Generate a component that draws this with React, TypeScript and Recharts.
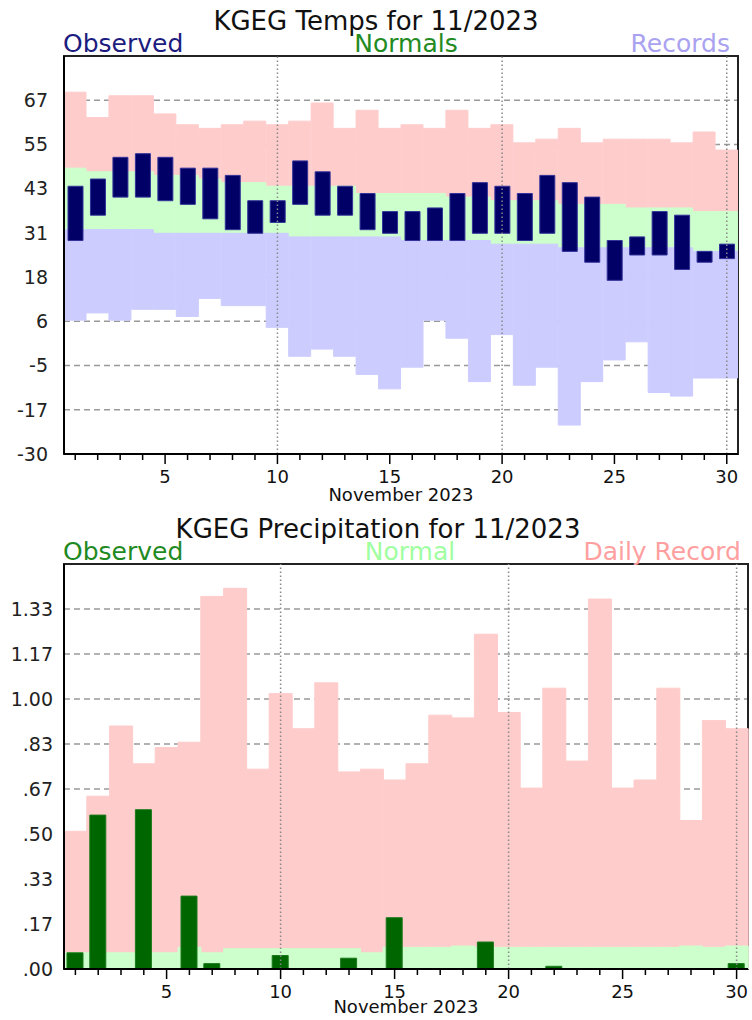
import React from "react";
import {
  Bar,
  CartesianGrid,
  ComposedChart,
  ReferenceArea,
  ReferenceLine,
  XAxis,
  YAxis,
} from "recharts";

// November 2023 days
const days = [
  1, 2, 3, 4, 5, 6, 7, 8, 9, 10, 11, 12, 13, 14, 15, 16, 17, 18, 19, 20, 21, 22, 23, 24, 25, 26, 27, 28, 29, 30,
];

// temperatures (F)
const obsHigh = [44, 46, 52, 53, 52, 49, 49, 47, 40, 40, 51, 48, 44, 42, 37, 37, 38, 42, 45, 44, 42, 47, 45, 41, 29, 30, 37, 36, 26, 28];
const obsLow = [29, 36, 41, 41, 40, 39, 35, 32, 31, 34, 39, 36, 36, 32, 31, 29, 29, 29, 31, 31, 29, 31, 26, 23, 18, 25, 25, 21, 23, 24];
const normHigh = [49, 48, 48, 48, 47, 47, 46, 45, 45, 44, 44, 44, 44, 42, 42, 42, 42, 41, 41, 40, 40, 40, 39, 39, 39, 38, 38, 38, 37, 37];
const normLow = [32, 32, 32, 32, 31, 31, 31, 31, 31, 31, 30, 30, 30, 30, 30, 29, 29, 29, 29, 28, 28, 28, 27, 27, 27, 27, 27, 27, 26, 26];
const recHigh = [70, 63, 69, 69, 64, 61, 60, 61, 62, 61, 62, 67, 60, 65, 60, 61, 60, 65, 60, 61, 56, 57, 60, 56, 57, 57, 57, 56, 59, 54];
const recLow = [7, 9, 7, 10, 10, 8, 13, 11, 11, 5, -3, -1, -3, -8, -12, -6, 7, 2, -10, 3, -11, -6, -22, -10, -4, 1, -13, -14, -9, -9];

const tempTicks = [-30, -17.78, -5.56, 6.67, 18.89, 31.11, 43.33, 55.56, 67.78];
const tempTickLabels = ["-30", "-17", "-5", "6", "18", "31", "43", "55", "67"];

// precipitation (in)
const precipObs = [0.06, 0.57, null, 0.59, null, 0.27, 0.02, null, null, 0.05, null, null, 0.04, null, 0.19, null, null, null, 0.1, null, null, 0.01, null, null, null, null, null, null, null, 0.02];
const precipNormal = [0.06, 0.06, 0.06, 0.06, 0.06, 0.08, 0.06, 0.075, 0.075, 0.075, 0.075, 0.075, 0.075, 0.06, 0.08, 0.08, 0.08, 0.085, 0.08, 0.08, 0.08, 0.08, 0.08, 0.08, 0.08, 0.08, 0.08, 0.085, 0.08, 0.085];
const precipRecord = [0.51, 0.64, 0.9, 0.76, 0.82, 0.84, 1.38, 1.41, 0.74, 1.02, 0.89, 1.06, 0.73, 0.74, 0.7, 0.76, 0.94, 0.93, 1.24, 0.95, 0.67, 1.04, 0.77, 1.37, 0.67, 0.7, 1.04, 0.55, 0.92, 0.89];

const precipTicks = [0, 0.1667, 0.3333, 0.5, 0.6667, 0.8333, 1, 1.1667, 1.3333];
const precipTickLabels = [".00", ".17", ".33", ".50", ".67", ".83", "1.00", "1.17", "1.33"];

const gridLines = [10, 20, 30];

const tempData = days.map((day, i) => ({
  day,
  obs: [obsLow[i], obsHigh[i]],
  rec: [normHigh[i], recHigh[i]],
  nrm: [normLow[i], normHigh[i]],
  low: [recLow[i], normLow[i]],
}));

const precipData = days.map((day, i) => ({
  day,
  obs: precipObs[i],
  nrm: precipNormal[i],
  rec: precipRecord[i],
}));

const FONT = "'DejaVu Sans', Verdana, sans-serif";

function DayTick(props: any) {
  const { x, y, payload } = props;
  const major = payload.value % 5 === 0;
  return (
    <g>
      <line x1={x} x2={x} y1={y} y2={y + (major ? 10 : 6)} stroke="#000" strokeWidth={1.5} />
      {major ? (
        <text x={x} y={y + 29} textAnchor="middle" fontSize={18} fill="#111" fontFamily={FONT}>
          {payload.value}
        </text>
      ) : null}
    </g>
  );
}

function Decorations() {
  return (
    <>
      <CartesianGrid vertical={false} stroke="#999" strokeDasharray="6 4" strokeWidth={1.5} />
      {gridLines.map((d) => (
        <ReferenceLine key={d} x={d} stroke="#888" strokeDasharray="1.5 2.5" strokeWidth={1.5} />
      ))}
    </>
  );
}

// band fills get a same-colour stroke so neighbouring days join without seams
function band(color: string) {
  return { fill: color, stroke: color, strokeWidth: 1 };
}

function TempChart() {
  return (
    <ComposedChart
      width={752}
      height={510}
      data={tempData}
      margin={{ top: 56, right: 14, left: 0, bottom: 0 }}
      barCategoryGap="0%"
      barGap={0}
    >
      <XAxis
        dataKey="day"
        ticks={days}
        interval={0}
        tick={(p: any) => <DayTick {...p} />}
        tickLine={false}
        tickSize={0}
        tickMargin={0}
        axisLine={{ stroke: "#000", strokeWidth: 2 }}
        height={56}
        label={{ value: "November 2023", position: "insideBottom", offset: 9, fontSize: 18, fill: "#111" }}
      />
      <XAxis xAxisId="rec" dataKey="day" hide />
      <XAxis xAxisId="nrm" dataKey="day" hide />
      <XAxis xAxisId="low" dataKey="day" hide />
      <YAxis
        type="number"
        domain={[-30, 80]}
        ticks={tempTicks}
        interval={0}
        tickFormatter={(v: number) => tempTickLabels[tempTicks.indexOf(v)]}
        width={64}
        tickLine={false}
        tickSize={0}
        tickMargin={16}
        axisLine={{ stroke: "#000", strokeWidth: 2 }}
        tick={{ fontSize: 19, fill: "#222" }}
      />
      <Bar xAxisId="rec" dataKey="rec" {...band("#ffcccc")} isAnimationActive={false} />
      <Bar xAxisId="nrm" dataKey="nrm" {...band("#ccffcc")} isAnimationActive={false} />
      <Bar xAxisId="low" dataKey="low" {...band("#ccccff")} isAnimationActive={false} />
      <Bar dataKey="obs" fill="#000066" stroke="#333399" strokeWidth={1} barSize={15} isAnimationActive={false} />
      {Decorations()}
      <ReferenceArea x1={1} x2={30} y1={-30} y2={80} fill="none" stroke="#222" strokeWidth={2} ifOverflow="visible" />
    </ComposedChart>
  );
}

function PrecipChart() {
  return (
    <ComposedChart
      width={752}
      height={510}
      data={precipData}
      margin={{ top: 54, right: 4, left: 0, bottom: 0 }}
      barCategoryGap="0%"
      barGap={0}
    >
      <XAxis
        dataKey="day"
        ticks={days}
        interval={0}
        tick={(p: any) => <DayTick {...p} />}
        tickLine={false}
        tickSize={0}
        tickMargin={0}
        axisLine={{ stroke: "#000", strokeWidth: 2 }}
        height={51}
        label={{ value: "November 2023", position: "insideBottom", offset: 7, fontSize: 18, fill: "#111" }}
      />
      <XAxis xAxisId="rec" dataKey="day" hide />
      <XAxis xAxisId="nrm" dataKey="day" hide />
      <YAxis
        type="number"
        domain={[0, 1.5]}
        ticks={precipTicks}
        interval={0}
        tickFormatter={(v: number) => precipTickLabels[precipTicks.indexOf(v)]}
        width={64}
        tickLine={false}
        tickSize={0}
        tickMargin={11}
        axisLine={{ stroke: "#000", strokeWidth: 2 }}
        tick={{ fontSize: 19, fill: "#222" }}
      />
      <Bar xAxisId="rec" dataKey="rec" {...band("#ffcccc")} isAnimationActive={false} />
      <Bar xAxisId="nrm" dataKey="nrm" {...band("#ccffcc")} isAnimationActive={false} />
      <Bar dataKey="obs" fill="#006600" stroke="#1a7a1a" strokeWidth={1} barSize={16} isAnimationActive={false} />
      {Decorations()}
      <ReferenceArea x1={1} x2={30} y1={0} y2={1.5} fill="none" stroke="#222" strokeWidth={2} ifOverflow="visible" />
    </ComposedChart>
  );
}

export default function App() {
  return (
    <div
      style={{
        position: "absolute",
        left: 0,
        top: 0,
        width: 752,
        height: 1020,
        background: "#fff",
        fontFamily: FONT,
      }}
    >
      <div style={{ position: "absolute", left: 0, top: 0 }}>
        <TempChart />
      </div>
      <div style={{ position: "absolute", left: 0, top: 510 }}>
        <PrecipChart />
      </div>
      <svg
        width={752}
        height={1020}
        style={{ position: "absolute", left: 0, top: 0, pointerEvents: "none" }}
        fontFamily={FONT}
      >
        <text x={376} y={30} textAnchor="middle" fontSize={26} fill="#111">
          KGEG Temps for 11/2023
        </text>
        <text x={63} y={52} fontSize={25} fill="#1c1c80">Observed</text>
        <text x={406} y={52} textAnchor="middle" fontSize={25} fill="#228b22">Normals</text>
        <text x={730} y={52} textAnchor="end" fontSize={25} fill="#aaa2f0">Records</text>

        <text x={378} y={538} textAnchor="middle" fontSize={26} fill="#111">
          KGEG Precipitation for 11/2023
        </text>
        <text x={63} y={560} fontSize={25} fill="#1f8a1f">Observed</text>
        <text x={410} y={560} textAnchor="middle" fontSize={25} fill="#a0ffa0">Normal</text>
        <text x={741} y={560} textAnchor="end" fontSize={25} fill="#ff9f9f">Daily Record</text>
      </svg>
    </div>
  );
}
